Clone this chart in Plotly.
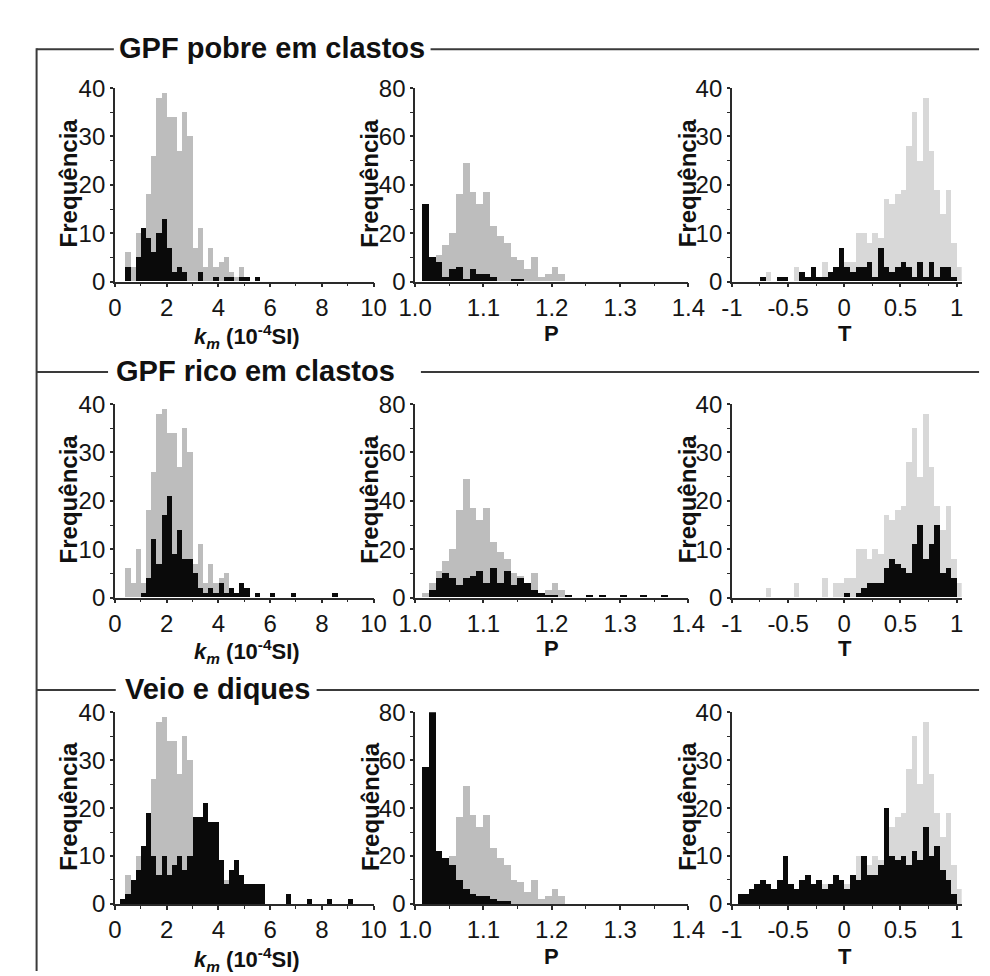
import plotly.graph_objects as go

# ---------------- data ----------------
# k_m histogram: left bin edges (10^-4 SI), bin width 0.2
KM_BINS = [0.2, 0.4, 0.6, 0.8, 1.0, 1.2, 1.4, 1.6, 1.8, 2.0, 2.2, 2.4, 2.6, 2.8, 3.0,
           3.2, 3.4, 3.6, 3.8, 4.0, 4.2, 4.4, 4.6, 4.8, 5.0, 5.2, 5.4, 5.6, 5.8, 6.0,
           6.2, 6.4, 6.6, 6.8, 7.0, 7.2, 7.4, 7.6, 7.8, 8.0, 8.2, 8.4, 8.6, 8.8, 9.0]
KM_ALL = [0, 6, 3, 10, 3, 18, 26, 38, 39, 34, 34, 27, 35, 30, 7,
          11, 3, 7, 3, 4, 5, 2, 1, 3, 1, 0, 0, 0, 0, 0,
          0, 0, 0, 0, 0, 0, 0, 0, 0, 0, 0, 0, 0, 0, 0]
KM_POBRE = [0, 3, 0, 5, 11, 9, 6, 10, 13, 7, 2, 3, 2, 0, 0,
            2, 0, 0, 1, 0, 1, 1, 0, 1, 1, 0, 1, 0, 0, 0,
            0, 0, 0, 0, 0, 0, 0, 0, 0, 0, 0, 0, 0, 0, 0]
KM_RICO = [0, 0, 0, 0, 1, 4, 12, 7, 17, 21, 9, 14, 8, 8, 5,
           2, 1, 2, 1, 3, 1, 2, 1, 3, 2, 0, 1, 0, 0, 1,
           0, 0, 0, 1, 0, 0, 0, 0, 0, 0, 0, 1, 0, 0, 0]
KM_VEIO = [1, 2, 5, 7, 12, 19, 10, 6, 10, 6, 8, 10, 7, 10, 18,
           18, 21, 17, 17, 9, 4, 7, 9, 6, 4, 4, 4, 4, 0, 0,
           0, 0, 2, 0, 0, 0, 1, 0, 0, 0, 1, 0, 0, 0, 1]

# P histogram: left bin edges, bin width 0.01
P_BINS = [1.01, 1.02, 1.03, 1.04, 1.05, 1.06, 1.07, 1.08, 1.09, 1.10, 1.11, 1.12,
          1.13, 1.14, 1.15, 1.16, 1.17, 1.18, 1.19, 1.20, 1.21, 1.22, 1.23, 1.24,
          1.25, 1.26, 1.27, 1.28, 1.29, 1.30, 1.31, 1.32, 1.33, 1.34, 1.35, 1.36]
P_ALL = [2, 6, 11, 15, 20, 36, 49, 37, 32, 37, 23, 19,
         16, 10, 9, 5, 10, 2, 3, 6, 3, 0, 0, 0,
         0, 0, 0, 0, 0, 0, 0, 0, 0, 0, 0, 0]
P_POBRE = [32, 10, 8, 2, 5, 6, 1, 5, 3, 3, 2, 0,
           0, 1, 1, 0, 0, 0, 0, 0, 0, 0, 0, 0,
           0, 0, 0, 0, 0, 0, 0, 0, 0, 0, 0, 0]
P_RICO = [0, 3, 8, 10, 8, 5, 8, 9, 11, 6, 12, 6,
          11, 5, 8, 6, 3, 2, 1, 1, 0, 1, 0, 0,
          1, 0, 1, 0, 0, 1, 0, 0, 1, 0, 0, 1]
P_VEIO = [57, 80, 22, 19, 16, 10, 6, 4, 3, 3, 2, 1,
          1, 0, 0, 0, 0, 0, 0, 0, 0, 0, 0, 0,
          0, 0, 0, 0, 0, 0, 0, 0, 0, 0, 0, 0]

# T histogram: left bin edges, bin width 0.05
T_BINS = [-1.00, -0.95, -0.90, -0.85, -0.80, -0.75, -0.70, -0.65, -0.60, -0.55,
          -0.50, -0.45, -0.40, -0.35, -0.30, -0.25, -0.20, -0.15, -0.10, -0.05,
          0.00, 0.05, 0.10, 0.15, 0.20, 0.25, 0.30, 0.35, 0.40, 0.45,
          0.50, 0.55, 0.60, 0.65, 0.70, 0.75, 0.80, 0.85, 0.90, 0.95, 1.00]
T_ALL = [0, 0, 0, 0, 0, 0, 2, 0, 0, 0,
         0, 3, 0, 0, 0, 0, 4, 0, 3, 3,
         4, 4, 10, 10, 8, 10, 9, 17, 16, 18,
         19, 28, 35, 25, 38, 27, 19, 14, 19, 8, 3]
T_POBRE = [0, 0, 0, 0, 0, 1, 0, 0, 1, 1,
           0, 0, 2, 1, 3, 1, 1, 2, 3, 7,
           3, 2, 3, 3, 4, 1, 7, 3, 2, 3,
           4, 3, 1, 4, 1, 4, 1, 3, 3, 1, 0]
T_RICO = [0, 0, 0, 0, 0, 0, 0, 0, 0, 0,
          0, 0, 0, 0, 0, 0, 0, 0, 0, 0,
          1, 0, 1, 2, 3, 3, 3, 6, 8, 7,
          6, 5, 11, 15, 8, 11, 15, 5, 6, 4, 0]
T_VEIO = [0, 2, 2, 3, 4, 5, 4, 3, 5, 10,
          4, 3, 5, 6, 4, 5, 3, 4, 6, 5,
          3, 6, 5, 10, 6, 6, 8, 20, 10, 9,
          10, 8, 11, 9, 16, 10, 12, 7, 5, 2, 0]

ROW_TITLES = ["GPF pobre em clastos", "GPF rico em clastos", "Veio e diques"]
Y_TITLE = "Frequência"
X_TITLES = ["<b><i>k</i><sub><i>m</i></sub> (10<sup>-4</sup>SI)</b>", "<b>P</b>", "<b>T</b>"]

KM_TICKS = [0, 2, 4, 6, 8, 10]
P_TICKS = [1.0, 1.1, 1.2, 1.3, 1.4]
P_TICKTEXT = ["1.0", "1.1", "1.2", "1.3", "1.4"]
T_TICKS = [-1, -0.5, 0, 0.5, 1]
T_TICKTEXT = ["-1", "-0.5", "0", "0.5", "1"]

# ---------------- layout helpers ----------------
W, H = 990, 976


def fx(x):
    return x / W


def fy(y):
    return 1 - y / H


FONT = "Liberation Sans, Arial, sans-serif"
AX = "#2a2a2a"
GRAY_KM = "#bdbdbd"
GRAY_T = "#d8d8d8"
BLACK = "#0a0a0a"

cols = [
    dict(bins=KM_BINS, width=0.2, gray=KM_ALL, gcol=GRAY_KM, blacks=[KM_POBRE, KM_RICO, KM_VEIO],
         px=(93, 361), xr=[0, 10], xt=KM_TICKS, xtt=[str(v) for v in KM_TICKS], xminor=1,
         yr=[0, 40], yt=[0, 10, 20, 30, 40], yminor=5, tx=45, tdy=3),
    dict(bins=P_BINS, width=0.01, gray=P_ALL, gcol=GRAY_KM, blacks=[P_POBRE, P_RICO, P_VEIO],
         px=(404, 687), xr=[1.0, 1.4], xt=P_TICKS, xtt=P_TICKTEXT, xminor=0.05,
         yr=[0, 80], yt=[0, 20, 40, 60, 80], yminor=10, tx=357, tdy=0),
    dict(bins=T_BINS, width=0.05, gray=T_ALL, gcol=GRAY_T, blacks=[T_POBRE, T_RICO, T_VEIO],
         px=(732, 970), xr=[-1, 1.045], xt=T_TICKS, xtt=T_TICKTEXT, xminor=0.25,
         yr=[0, 40], yt=[0, 10, 20, 30, 40], yminor=5, tx=686, tdy=0),
]
rows_py = [(68, 267), (393, 592), (710, 907)]
xtitle_y = [320, 644, 961]
xtitle_x = [230, 545, 849]

fig = go.Figure()
layout = dict(
    width=W, height=H, margin=dict(l=0, r=0, t=0, b=0),
    paper_bgcolor="white", plot_bgcolor="white", showlegend=False,
    barmode="overlay", bargap=0,
)
annotations = []
shapes = []

for r in range(3):
    top, bot = rows_py[r]
    for c in range(3):
        cd = cols[c]
        i = r * 3 + c + 1
        xa = "x" if i == 1 else f"x{i}"
        ya = "y" if i == 1 else f"y{i}"
        w = cd["width"]
        centers = [round(b + w / 2, 4) for b in cd["bins"]]
        fig.add_trace(go.Bar(x=centers, y=cd["gray"], width=w, marker=dict(color=cd["gcol"], line=dict(width=0)),
                             xaxis=xa, yaxis=ya, hoverinfo="x+y"))
        fig.add_trace(go.Bar(x=centers, y=cd["blacks"][r], width=w, marker=dict(color=BLACK, line=dict(width=0)),
                             xaxis=xa, yaxis=ya, hoverinfo="x+y"))
        x0, x1 = cd["px"]
        xmin, xmax = cd["xr"]
        minor_x = []
        k = 0
        while True:
            v = round(xmin + k * cd["xminor"], 4)
            if v > xmax + 1e-9:
                break
            minor_x.append(v)
            k += 1
        layout["xaxis" if i == 1 else f"xaxis{i}"] = dict(
            domain=[fx(x0), fx(x1)], range=cd["xr"], anchor=ya,
            showline=True, linecolor=AX, linewidth=1.5, mirror=False,
            ticks="outside", ticklen=4, tickwidth=1.5, tickcolor=AX,
            tickvals=cd["xt"], ticktext=cd["xtt"],
            tickfont=dict(family=FONT, size=24, color="#151515"),
            minor=dict(tickvals=minor_x, ticks="outside", ticklen=3, tickwidth=1.2, tickcolor=AX, showgrid=False),
            showgrid=False, zeroline=False, fixedrange=True,
        )
        ymin, ymax = cd["yr"]
        minor_y = [ymin + k * cd["yminor"] for k in range(int((ymax - ymin) / cd["yminor"]) + 1)]
        layout["yaxis" if i == 1 else f"yaxis{i}"] = dict(
            domain=[fy(bot), fy(top)], range=cd["yr"], anchor=xa,
            showline=True, linecolor=AX, linewidth=1.5,
            ticks="outside", ticklen=3, tickwidth=1.5, tickcolor=AX,
            tickvals=cd["yt"], ticktext=[str(v) for v in cd["yt"]],
            tickfont=dict(family=FONT, size=24, color="#151515"),
            minor=dict(tickvals=minor_y, ticks="outside", ticklen=3, tickwidth=1.2, tickcolor=AX, showgrid=False),
            showgrid=False, zeroline=False, fixedrange=True,
        )
        annotations.append(dict(
            text=f"<b>{Y_TITLE}</b>", x=fx(cd["tx"]), y=fy((top + bot) / 2 - 2), xref="paper", yref="paper",
            textangle=-90, showarrow=False, xanchor="center", yanchor="middle",
            font=dict(family=FONT, size=24, color="#111"),
        ))
        annotations.append(dict(
            text=X_TITLES[c], x=fx(xtitle_x[c]), y=fy(xtitle_y[r] + cd["tdy"]), xref="paper", yref="paper",
            showarrow=False, xanchor="center", yanchor="middle",
            font=dict(family=FONT, size=22, color="#111"),
        ))

# row titles and frame lines
title_geo = [
    dict(y=28, tx=95, gap=(92, 420)),
    dict(y=360, tx=92, gap=(86, 410)),
    dict(y=687, tx=101, gap=(94, 302)),
]
LINE = dict(color="#3a3a3a", width=2)
for r, g in enumerate(title_geo):
    annotations.append(dict(
        text=f"<b>{ROW_TITLES[r]}</b>", x=fx(g["tx"]), y=fy(g["y"] - 1), xref="paper", yref="paper",
        showarrow=False, xanchor="left", yanchor="middle",
        font=dict(family=FONT, size=29, color="#111"),
    ))
    shapes.append(dict(type="line", xref="paper", yref="paper", x0=fx(12), x1=fx(g["gap"][0]),
                       y0=fy(g["y"]), y1=fy(g["y"]), line=LINE))
    shapes.append(dict(type="line", xref="paper", yref="paper", x0=fx(g["gap"][1]), x1=fx(988),
                       y0=fy(g["y"]), y1=fy(g["y"]), line=LINE))
shapes.append(dict(type="line", xref="paper", yref="paper", x0=fx(12), x1=fx(12),
                   y0=fy(27), y1=fy(976), line=LINE))

layout["annotations"] = annotations
layout["shapes"] = shapes
fig.update_layout(**layout)
fig.write_html("out.html")
